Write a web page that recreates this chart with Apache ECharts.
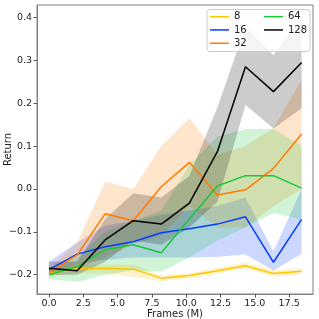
<!DOCTYPE html>
<html>
<head>
<meta charset="utf-8">
<script src="https://cdn.jsdelivr.net/npm/echarts@6/dist/echarts.min.js"></script>
<style>html,body{margin:0;padding:0;background:#fff}#c{width:319px;height:319px}</style>
</head>
<body>
<div id="c"></div>
<script>
var frames = [0, 2.05, 4.09, 6.14, 8.18, 10.23, 12.27, 14.32, 16.36, 18.41];
var xTicks = [0, 2.5, 5, 7.5, 10, 12.5, 15, 17.5];
var yTicks = [-0.2, -0.1, 0.0, 0.1, 0.2, 0.3, 0.4];

var names = ['8', '16', '32', '64', '128'];
var colors = ['#ffc400', '#023eff', '#ff7c00', '#1ac938', '#000000'];

var ret8  = [-0.197, -0.186, -0.185, -0.187, -0.208, -0.202, -0.191, -0.179, -0.197, -0.192];
var lo8   = [-0.205, -0.196, -0.198, -0.205, -0.215, -0.208, -0.198, -0.186, -0.205, -0.199];
var hi8   = [-0.190, -0.177, -0.176, -0.176, -0.201, -0.196, -0.184, -0.171, -0.189, -0.185];

var ret16 = [-0.188, -0.152, -0.135, -0.123, -0.102, -0.093, -0.082, -0.065, -0.171, -0.071];
var lo16  = [-0.200, -0.175, -0.165, -0.160, -0.160, -0.160, -0.158, -0.153, -0.190, -0.151];
var hi16  = [-0.170, -0.125, -0.085, -0.075, -0.060, -0.050, -0.040, -0.020, -0.146, 0.000];

var ret32 = [-0.195, -0.154, -0.058, -0.074, 0.005, 0.062, -0.014, -0.002, 0.048, 0.128];
var lo32  = [-0.200, -0.185, -0.160, -0.130, -0.110, -0.040, -0.090, -0.090, -0.040, 0.000];
var hi32  = [-0.185, -0.125, 0.016, 0.000, 0.100, 0.165, 0.080, 0.100, 0.142, 0.254];

var ret64 = [-0.200, -0.181, -0.142, -0.130, -0.149, -0.070, 0.007, 0.031, 0.031, 0.002];
var lo64  = [-0.210, -0.217, -0.200, -0.190, -0.193, -0.160, -0.120, -0.090, -0.056, -0.071];
var hi64  = [-0.190, -0.160, -0.100, -0.075, -0.050, 0.055, 0.122, 0.140, 0.140, 0.100];

var ret128 = [-0.185, -0.191, -0.119, -0.074, -0.082, -0.033, 0.087, 0.285, 0.227, 0.295];
var lo128  = [-0.200, -0.200, -0.170, -0.120, -0.130, -0.090, -0.030, 0.196, 0.141, 0.188];
var hi128  = [-0.170, -0.170, -0.070, -0.010, -0.020, 0.030, 0.190, 0.378, 0.312, 0.400];

var rets = [ret8, ret16, ret32, ret64, ret128];
var los = [lo8, lo16, lo32, lo64, lo128];
var his = [hi8, hi16, hi32, hi64, hi128];

function hexA(hex, a) {
  var r = parseInt(hex.substr(1,2),16), g = parseInt(hex.substr(3,2),16), b = parseInt(hex.substr(5,2),16);
  return 'rgba(' + r + ',' + g + ',' + b + ',' + a + ')';
}

var series = [];
names.forEach(function (n, k) {
  var lo = los[k], hi = his[k];
  series.push({
    name: n + ' band',
    type: 'custom',
    silent: true,
    z: 1 + k,
    data: frames.map(function (x, i) { return [x, lo[i], hi[i]]; }),
    encode: { x: 0, y: [1, 2] },
    renderItem: function (params, api) {
      if (params.dataIndex !== 0) return null;
      var pts = [];
      for (var i = 0; i < frames.length; i++) pts.push(api.coord([frames[i], hi[i]]));
      for (var j = frames.length - 1; j >= 0; j--) pts.push(api.coord([frames[j], lo[j]]));
      return { type: 'polygon', shape: { points: pts }, style: { fill: hexA(colors[k], 0.2) } };
    }
  });
});
names.forEach(function (n, k) {
  series.push({
    name: n,
    type: 'line',
    z: 10 + k,
    showSymbol: false,
    symbol: 'none',
    color: colors[k],
    lineStyle: { width: 1.5, color: colors[k] },
    data: frames.map(function (x, i) { return [x, rets[k][i]]; })
  });
});

var fmt = function (v) { return v.toFixed(1).replace('-', '\u2212'); };
var font = 'DejaVu Sans';

var chart = echarts.init(document.getElementById('c'), null, { renderer: 'canvas' });
chart.setOption({
  animation: false,
  backgroundColor: '#fff',
  grid: { left: 37, top: 5, right: 6, bottom: 25, containLabel: false, outerBoundsMode: 'none',
          show: true, borderColor: '#808080', borderWidth: 1, backgroundColor: 'transparent' },
  xAxis: {
    type: 'value', min: -0.875, max: 19.24,
    name: 'Frames (M)', nameLocation: 'middle', nameGap: 15, nameMoveOverlap: false,
    nameTextStyle: { fontFamily: font, fontSize: 10, color: '#222' },
    axisLine: { show: true, onZero: false, lineStyle: { color: '#808080', width: 1 } },
    axisTick: { show: true, length: 3.5, lineStyle: { color: '#555' }, customValues: xTicks },
    axisLabel: { fontFamily: font, fontSize: 9.5, color: '#222', margin: 5, customValues: xTicks, formatter: fmt },
    splitLine: { show: false }
  },
  yAxis: {
    type: 'value', min: -0.245, max: 0.429,
    name: 'Return', nameLocation: 'middle', nameGap: 24, nameRotate: 90, nameMoveOverlap: false,
    nameTextStyle: { fontFamily: font, fontSize: 10, color: '#222' },
    axisLine: { show: true, onZero: false, lineStyle: { color: '#808080', width: 1 } },
    axisTick: { show: true, length: 3.5, lineStyle: { color: '#555' }, customValues: yTicks },
    axisLabel: { fontFamily: font, fontSize: 9.5, color: '#222', margin: 5, customValues: yTicks, formatter: fmt },
    splitLine: { show: false }
  },
  graphic: [{
    type: 'rect', left: 206.5, top: 9, z: 50,
    shape: { width: 103, height: 42, r: 3 },
    style: { fill: 'rgba(255,255,255,0.8)', stroke: '#cccccc', lineWidth: 1 }
  }],
  legend: [{
    data: ['8', '16', '32'], orient: 'vertical', left: 210, top: 10, z: 60,
    selectedMode: false, icon: 'rect', itemWidth: 19, itemHeight: 1.5, itemGap: 0, padding: 0,
    textStyle: { fontFamily: font, fontSize: 10, color: '#222', lineHeight: 13.3 }
  }, {
    data: ['64', '128'], orient: 'vertical', left: 264, top: 10, z: 60,
    selectedMode: false, icon: 'rect', itemWidth: 19, itemHeight: 1.5, itemGap: 0, padding: 0,
    textStyle: { fontFamily: font, fontSize: 10, color: '#222', lineHeight: 13.3 }
  }],
  series: series
});
</script>
</body>
</html>
